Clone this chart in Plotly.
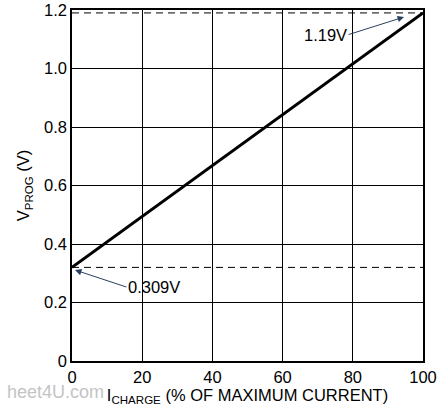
import plotly.graph_objects as go

# data
i_charge = [0, 100]
v_prog = [0.32, 1.19]
ref_levels = [1.19, 0.32]
x_ticks = [0, 20, 40, 60, 80, 100]
x_ticktext = ["0", "20", "40", "60", "80", "100"]
y_ticks = [0, 0.2, 0.4, 0.6, 0.8, 1.0, 1.2]
y_ticktext = ["0", "0.2", "0.4", "0.6", "0.8", "1.0", "1.2"]

FONT = "Liberation Sans, Arial, sans-serif"
FS = 16.5

fig = go.Figure()
for lv in ref_levels:
    fig.add_trace(go.Scatter(x=[0, 100], y=[lv, lv], mode="lines",
                             line=dict(color="black", width=1, dash="7px,5px"),
                             showlegend=False, hoverinfo="skip"))
fig.add_trace(go.Scatter(x=i_charge, y=v_prog, mode="lines",
                         line=dict(color="black", width=3),
                         showlegend=False))

fig.add_annotation(x=94.6, y=1.176, ax=78.8, ay=1.116, xref="x", yref="y", axref="x", ayref="y",
                   text="1.19V", showarrow=True, arrowhead=2, arrowsize=1.3, arrowwidth=1,
                   xanchor="right", font=dict(family=FONT, size=FS, color="black"))
fig.add_annotation(x=0.85, y=0.311, ax=15.5, ay=0.253, xref="x", yref="y", axref="x", ayref="y",
                   text="0.309V", showarrow=True, arrowhead=2, arrowsize=1.3, arrowwidth=1,
                   xanchor="left", font=dict(family=FONT, size=FS, color="black"))
fig.add_annotation(x=0, y=0, xref="paper", yref="paper", xanchor="right", yanchor="middle",
                   text="heet4U.com", showarrow=False,
                   font=dict(family="Liberation Sans", size=18, color="#c4c4c4"),
                   xshift=34, yshift=-31)

fig.update_xaxes(range=[0, 100], tickvals=x_ticks, ticktext=x_ticktext,
                 showgrid=True, gridcolor="black", gridwidth=1,
                 showline=True, linecolor="black", linewidth=1.5, mirror=True,
                 ticks="", zeroline=False, automargin=False,
                 tickfont=dict(family=FONT, size=FS, color="black"),
                 title=dict(text="I<sub>CHARGE</sub> (% OF MAXIMUM CURRENT)",
                            font=dict(family=FONT, size=FS, color="black"), standoff=4))
fig.update_yaxes(range=[0, 1.2], tickvals=y_ticks, ticktext=y_ticktext,
                 showgrid=True, gridcolor="black", gridwidth=1,
                 showline=True, linecolor="black", linewidth=1.5, mirror=True,
                 ticks="", zeroline=False, automargin=False,
                 tickfont=dict(family=FONT, size=FS, color="black"),
                 title=dict(text="V<sub>PROG</sub> (V)",
                            font=dict(family=FONT, size=FS, color="black"), standoff=10))

fig.update_layout(width=438, height=420, margin=dict(l=72, r=15, t=10, b=59),
                  plot_bgcolor="white", paper_bgcolor="white")
fig.write_html("out.html", config={"displayModeBar": False},
               post_script="document.body.style.margin='0';")
